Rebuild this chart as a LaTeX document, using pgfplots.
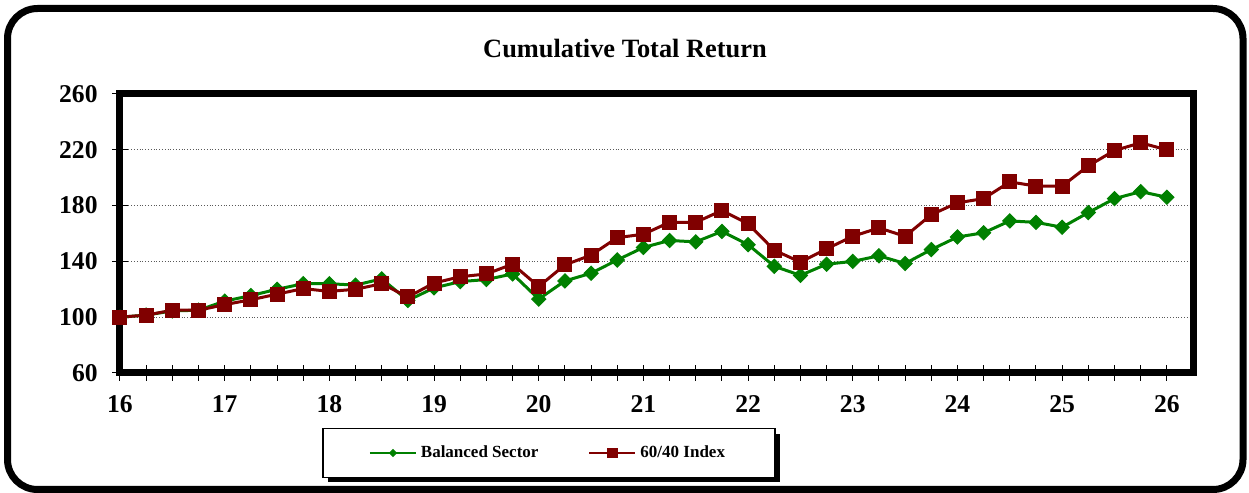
\documentclass[border=0pt]{standalone}
\usepackage{fontspec}
\setmainfont{Liberation Serif}
\usepackage{pgfplots}
\pgfplotsset{compat=1.18}
\definecolor{ser1}{RGB}{0,128,0}
\definecolor{ser2}{RGB}{128,0,0}

\pgfplotstableread{
x y
16 100
16.25 101.5
16.5 104.5
16.75 105
17 111.5
17.25 115.5
17.5 120
17.75 124
18 124
18.25 123
18.5 127.5
18.75 112
19 121
19.25 125.5
19.5 127
19.75 131
20 113
20.25 126
20.5 131.5
20.75 141
21 150
21.25 155
21.5 154
21.75 161.5
22 152
22.25 136.5
22.5 130
22.75 138
23 140
23.25 144
23.5 138.5
23.75 148.5
24 157.5
24.25 160.5
24.5 169
24.75 168
25 164.5
25.25 175
25.5 185
25.75 190
26 186
}\balanced

\pgfplotstableread{
x y
16 100
16.25 101.5
16.5 105
16.75 105
17 109
17.25 112.5
17.5 116.5
17.75 120.5
18 118.5
18.25 120
18.5 124
18.75 114.5
19 124.5
19.25 129
19.5 131
19.75 138
20 122
20.25 137.5
20.5 144.5
20.75 157
21 159.5
21.25 168
21.5 168
21.75 176.5
22 167
22.25 148
22.5 139.5
22.75 149
23 158
23.25 164
23.5 158
23.75 173.5
24 182
24.25 185
24.5 197
24.75 194
25 194
25.25 208.5
25.5 219.5
25.75 225
26 220
}\sixtyforty

\begin{document}
\begin{tikzpicture}
\useasboundingbox (0,0) rectangle (624.5pt,246.5pt);
\draw[line width=3.5pt, rounded corners=15pt] (3.75pt,1.75pt) rectangle (621.5pt,242.25pt);
\node[font=\fontsize{13.2}{15}\selectfont\bfseries, inner sep=0pt] at (312.5pt,222pt) {Cumulative Total Return};
% legend shadow
\fill[black] (164pt,5.5pt) rectangle (390pt,29.5pt);
\begin{axis}[
  at={(60pt,60pt)}, anchor=south west,
  scale only axis, width=536.5pt, height=139.5pt,
  xmin=16, xmax=26.25, ymin=60, ymax=260,
  xtick={16,...,26}, minor x tick num=3,
  ytick={60,100,...,260},
  xtick pos=bottom, ytick pos=left,
  tick align=center,
  major tick length=8pt, minor tick length=8pt,
  tick style={black, line width=0.5pt},
  ymajorgrids,
  major grid style={densely dotted, black!65, line width=0.6pt},
  axis line style={line width=3.5pt, line cap=rect},
  clip=false,
  /pgf/number format/assume math mode=true,
  tick label style={font=\fontsize{12.8}{14}\selectfont\bfseries},
  yticklabel style={anchor=east, inner sep=0pt, xshift=-7pt},
  xticklabel style={anchor=north, inner sep=0pt, yshift=-7pt},
  legend columns=2,
  legend cell align=left,
  legend style={at={(0.3998,-0.2867)}, anchor=center, draw=black, line width=0.8pt,
    fill=white,
    font=\fontsize{8.5}{10}\selectfont\bfseries,
    inner xsep=23pt, inner ysep=6.5pt,
    /tikz/every even column/.append style={column sep=23pt}},
]
\addplot[color=ser1, line width=1.5pt, mark=square*, mark size=2.5pt,
  mark options={rotate=45, solid, fill=ser1, line width=0.5pt},
  legend image code/.code={\draw[line width=1pt, mark size=1.2pt, mark repeat=2, mark phase=2]
    plot coordinates {(0pt,0pt) (11.5pt,0pt) (23pt,0pt)};}]
  table[x=x,y=y] {\balanced};
\addlegendentry{Balanced Sector}
\addplot[color=ser2, line width=1.5pt, mark=square*, mark size=3.5pt,
  mark options={solid, fill=ser2, line width=0.5pt},
  legend image code/.code={\draw[line width=1pt, mark size=2.3pt, mark repeat=2, mark phase=2]
    plot coordinates {(0pt,0pt) (11.5pt,0pt) (23pt,0pt)};}]
  table[x=x,y=y] {\sixtyforty};
\addlegendentry{60/40 Index}
\end{axis}
\end{tikzpicture}
\end{document}
